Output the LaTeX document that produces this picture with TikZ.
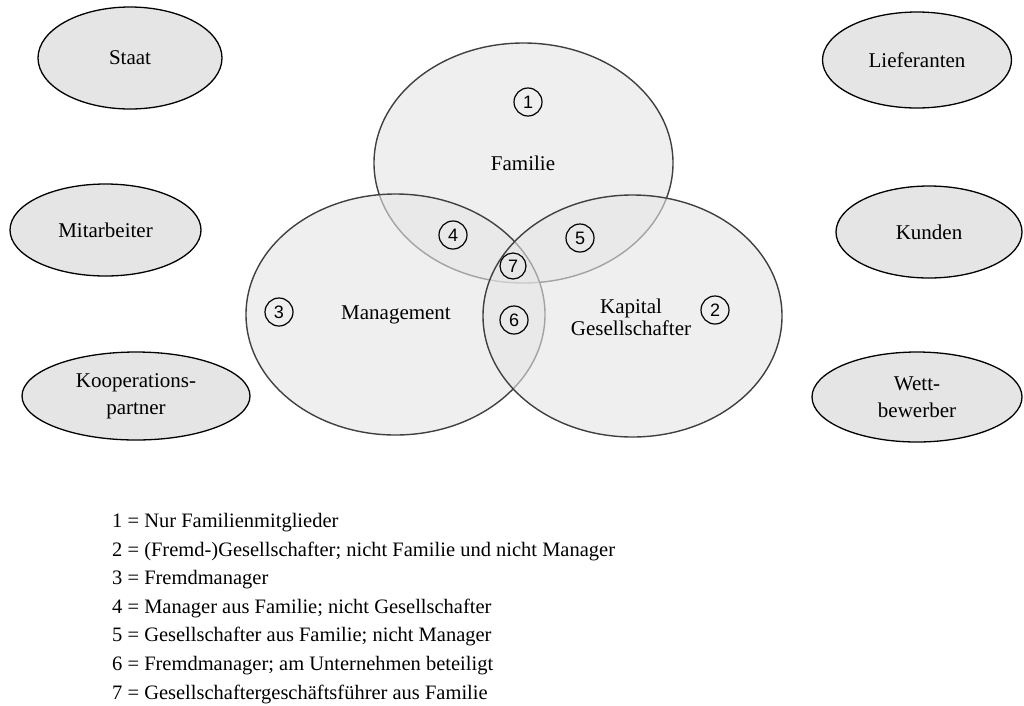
\documentclass[tikz,border=0pt]{standalone}
\usepackage{fontspec}
\setmainfont{Liberation Serif}
\newfontfamily\numfont{Liberation Sans}
\usetikzlibrary{shapes.geometric}
\begin{document}
\begin{tikzpicture}[x=1pt,y=-1pt,
  every node/.style={font=\fontsize{21}{24}\selectfont},
  stakeholder/.style={ellipse,draw=black,line width=1.3pt,fill=black!10,inner sep=0pt},
  sphere/.style={draw=black!75,line width=1.4pt,fill=black!10,fill opacity=0.6,draw opacity=1},
  areanum/.style={circle,draw=black,line width=1.2pt,inner sep=0pt,minimum size=28pt,
    font=\numfont\fontsize{18}{20}\selectfont},
  legend/.style={anchor=west,inner sep=0pt,font=\fontsize{20.5}{22}\selectfont}]
\useasboundingbox (0,0) rectangle (1024,705);

% three overlapping spheres
\draw[sphere] (523.5,163) ellipse [x radius=149.5, y radius=120];
\draw[sphere] (395.5,314.5) ellipse [x radius=149.5, y radius=120.5];
\draw[sphere] (632.5,316) ellipse [x radius=149.5, y radius=121];

\node (familie) at (523,163) {Familie};
\node (management) at (396,315) {Management};
\node[align=center,font=\fontsize{21}{22}\selectfont] (kapital) at (631,317) {Kapital\\Gesellschafter};

% area numbers
\node[areanum] (n1) at (528,102) {1};
\node[areanum] (n2) at (715,310) {2};
\node[areanum] (n3) at (279,312) {3};
\node[areanum] (n4) at (453,235) {4};
\node[areanum] (n5) at (580,238) {5};
\node[areanum] (n6) at (514,320) {6};
\node[areanum,minimum size=26pt] (n7) at (513,266) {7};

% stakeholders around the company
\node[stakeholder,minimum width=184pt,minimum height=102pt] (staat) at (130,58) {Staat};
\node[stakeholder,minimum width=189pt,minimum height=96pt] (lief) at (917,60) {Lieferanten};
\node[stakeholder,minimum width=191pt,minimum height=92pt] (mitarb) at (105.5,230) {Mitarbeiter};
\node[stakeholder,minimum width=186pt,minimum height=92pt] (kunden) at (929,232) {Kunden};
\node[stakeholder,minimum width=228pt,minimum height=88pt,align=center,font=\fontsize{21}{27}\selectfont] (koop) at (136,396) {Kooperations-\\partner};
\node[stakeholder,minimum width=210pt,minimum height=90pt,align=center,font=\fontsize{21}{27}\selectfont] (wett) at (917,397) {Wett-\\bewerber};

% legend
\node[legend] (l1) at (112,522.5) {1 = Nur Familienmitglieder};
\node[legend] (l2) at (112,551.1) {2 = (Fremd-)Gesellschafter; nicht Familie und nicht Manager};
\node[legend] (l3) at (112,579.7) {3 = Fremdmanager};
\node[legend] (l4) at (112,608.3) {4 = Manager aus Familie; nicht Gesellschafter};
\node[legend] (l5) at (112,636.9) {5 = Gesellschafter aus Familie; nicht Manager};
\node[legend] (l6) at (112,665.5) {6 = Fremdmanager; am Unternehmen beteiligt};
\node[legend] (l7) at (112,694.1) {7 = Gesellschaftergeschäftsführer aus Familie};
\end{tikzpicture}
\end{document}
